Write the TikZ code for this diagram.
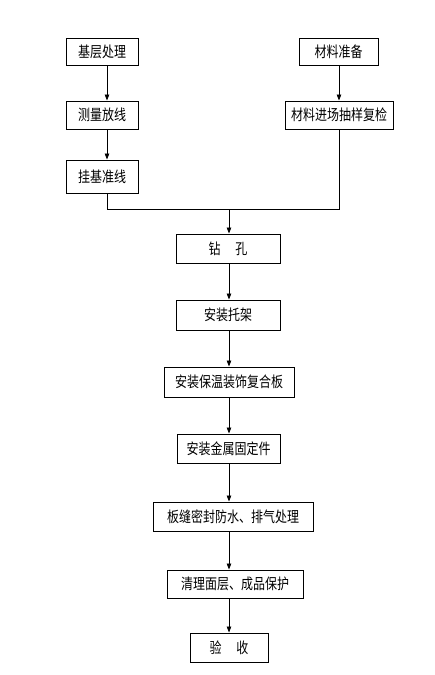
\documentclass[tikz,border=0pt]{standalone}
\usepackage{fontspec}
\newfontfamily\cjk[FakeStretch=0.8]{Noto Sans CJK SC}
\usetikzlibrary{arrows.meta}
\begin{document}
\begin{tikzpicture}[x=1pt,y=-1pt,
  box/.style={draw,line width=0.9pt,inner sep=0pt,font=\cjk\fontsize{15}{16}\selectfont},
  conn/.style={line width=0.8pt},
  arr/.style={conn,-{Triangle[length=6pt,width=4.5pt]}}]
\useasboundingbox (0,0) rectangle (434,675);
\node[box,minimum width=72pt,minimum height=27pt] (n1) at (102,51.5) {基层处理};
\node[box,minimum width=72pt,minimum height=28pt] (n2) at (102,115) {测量放线};
\node[box,minimum width=72pt,minimum height=33pt] (n3) at (102,176.5) {挂基准线};
\node[box,minimum width=79pt,minimum height=27pt] (r1) at (338.5,51.5) {材料准备};
\node[box,minimum width=108pt,minimum height=28pt] (r2) at (339,115) {材料进场抽样复检};
\node[box,minimum width=104pt,minimum height=29pt] (c1) at (228,248.5) {钻\hspace{15pt}孔};
\node[box,minimum width=104pt,minimum height=30pt] (c2) at (228,315) {安装托架};
\node[box,minimum width=130pt,minimum height=30pt] (c3) at (229,382) {安装保温装饰复合板};
\node[box,minimum width=103pt,minimum height=29pt] (c4) at (228.5,448.5) {安装金属固定件};
\node[box,minimum width=160pt,minimum height=29pt] (c5) at (233,516.5) {板缝密封防水、排气处理};
\node[box,minimum width=136pt,minimum height=28pt] (c6) at (235,584) {清理面层、成品保护};
\node[box,minimum width=78pt,minimum height=29pt] (c7) at (229,647.5) {验\hspace{15pt}收};
\coordinate (lx) at (107,0);
\coordinate (rx) at (339,0);
\coordinate (cx) at (229,0);
\coordinate (my) at (0,209);
\draw[arr] (n1.south -| lx) -- (n2.north -| lx);
\draw[arr] (n2.south -| lx) -- (n3.north -| lx);
\draw[arr] (r1.south -| rx) -- (r2.north -| rx);
\draw[conn] (n3.south -| lx) -- (my -| lx) -- (my -| rx) -- (r2.south -| rx);
\draw[arr] (my -| cx) -- (c1.north -| cx);
\draw[arr] (c1.south -| cx) -- (c2.north -| cx);
\draw[arr] (c2.south -| cx) -- (c3.north -| cx);
\draw[arr] (c3.south -| cx) -- (c4.north -| cx);
\draw[arr] (c4.south -| cx) -- (c5.north -| cx);
\draw[arr] (c5.south -| cx) -- (c6.north -| cx);
\draw[arr] (c6.south -| cx) -- (c7.north -| cx);
\end{tikzpicture}
\end{document}
